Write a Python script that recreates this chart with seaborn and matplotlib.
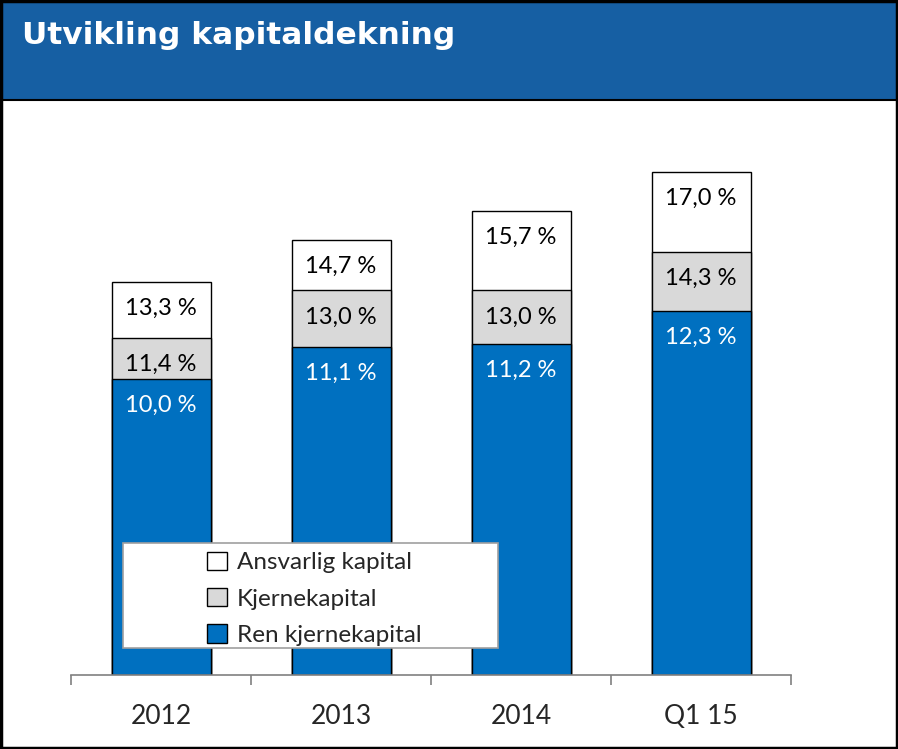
import pandas as pd
import matplotlib.pyplot as plt
import seaborn as sns
from matplotlib.patches import Rectangle

# Data
kategorier = ["2012", "2013", "2014", "Q1 15"]
ansvarlig = [13.3, 14.7, 15.7, 17.0]
kjerne = [11.4, 13.0, 13.0, 14.3]
ren_kjerne = [10.0, 11.1, 11.2, 12.3]
serier = ["Ansvarlig kapital", "Kjernekapital", "Ren kjernekapital"]
farger = ["#ffffff", "#d9d9d9", "#0070c0"]
tekstfarger = ["black", "black", "white"]

df = pd.DataFrame({
    "periode": kategorier * 3,
    "serie": [serier[0]] * 4 + [serier[1]] * 4 + [serier[2]] * 4,
    "verdi": ansvarlig + kjerne + ren_kjerne,
})

sns.set_style("white")
plt.rcParams["font.family"] = ["Lato", "DejaVu Sans"]

fig = plt.figure(figsize=(8.98, 7.49), dpi=100)
ax = fig.add_axes([71 / 898, 1 - 675 / 749, 720 / 898, 565 / 749])

# Tittelfelt
fig.patches.append(Rectangle((0, 1 - 100 / 749), 1, 100 / 749, transform=fig.transFigure,
                             facecolor="#165fa3", edgecolor="none", zorder=0))
fig.add_artist(plt.Line2D([0, 1], [1 - 100 / 749] * 2, color="black", lw=1.5))
fig.patches.append(Rectangle((0.001, 0.001), 0.998, 0.998, transform=fig.transFigure,
                             facecolor="none", edgecolor="black", lw=2.5, zorder=10))
fig.text(22 / 898, 1 - 35 / 749, "Utvikling kapitaldekning", color="white",
         fontsize=22.5, fontweight="bold", family="DejaVu Sans", va="center", ha="left")

# Overlappende søyler (hvit bakerst, blå fremst)
sns.barplot(data=df, x="periode", y="verdi", hue="serie", hue_order=serier,
            palette=farger, dodge=False, width=0.55, edgecolor="black",
            linewidth=1, saturation=1, ax=ax, legend=False)

verdier = [ansvarlig, kjerne, ren_kjerne]
for vals, tf in zip(verdier, tekstfarger):
    for i, v in enumerate(vals):
        ax.text(i, v - 0.9, f"{v:.1f} %".replace(".", ","), ha="center", va="center",
                fontsize=17, color=tf, zorder=5)

ax.set_xlim(-0.5, 3.5)
ax.set_ylim(0, 19.1)
ax.set_xlabel("")
ax.set_ylabel("")
ax.set_yticks([])
for s in ["top", "left", "right"]:
    ax.spines[s].set_visible(False)
ax.spines["bottom"].set_color("#808080")
ax.spines["bottom"].set_linewidth(1.2)
ax.set_xticks(range(len(kategorier)))
ax.set_xticklabels(kategorier, fontsize=19)
ax.set_xticks([-0.5, 0.5, 1.5, 2.5, 3.5], minor=True)
ax.tick_params(axis="x", which="major", bottom=False, length=0, pad=21)
ax.tick_params(axis="x", which="minor", bottom=True, length=7, color="#808080",
               width=1.2, direction="out")

# Tegnforklaring
ax.add_patch(Rectangle((52 / 720, 27 / 565), 375 / 720, 105 / 565, transform=ax.transAxes,
                       facecolor="white", edgecolor="#a0a0a0", lw=1.2, zorder=6))
handles = [Rectangle((0, 0), 1, 1, facecolor=f, edgecolor="black", lw=1) for f in farger]
leg = ax.legend(handles, serier, loc="center", bbox_to_anchor=(0.338, 0.135),
                frameon=False, fontsize=17.5, handlelength=0.8, handleheight=0.8,
                handletextpad=0.4, labelspacing=0.6)
leg.set_zorder(7)

fig.savefig("out.png", dpi=100)
